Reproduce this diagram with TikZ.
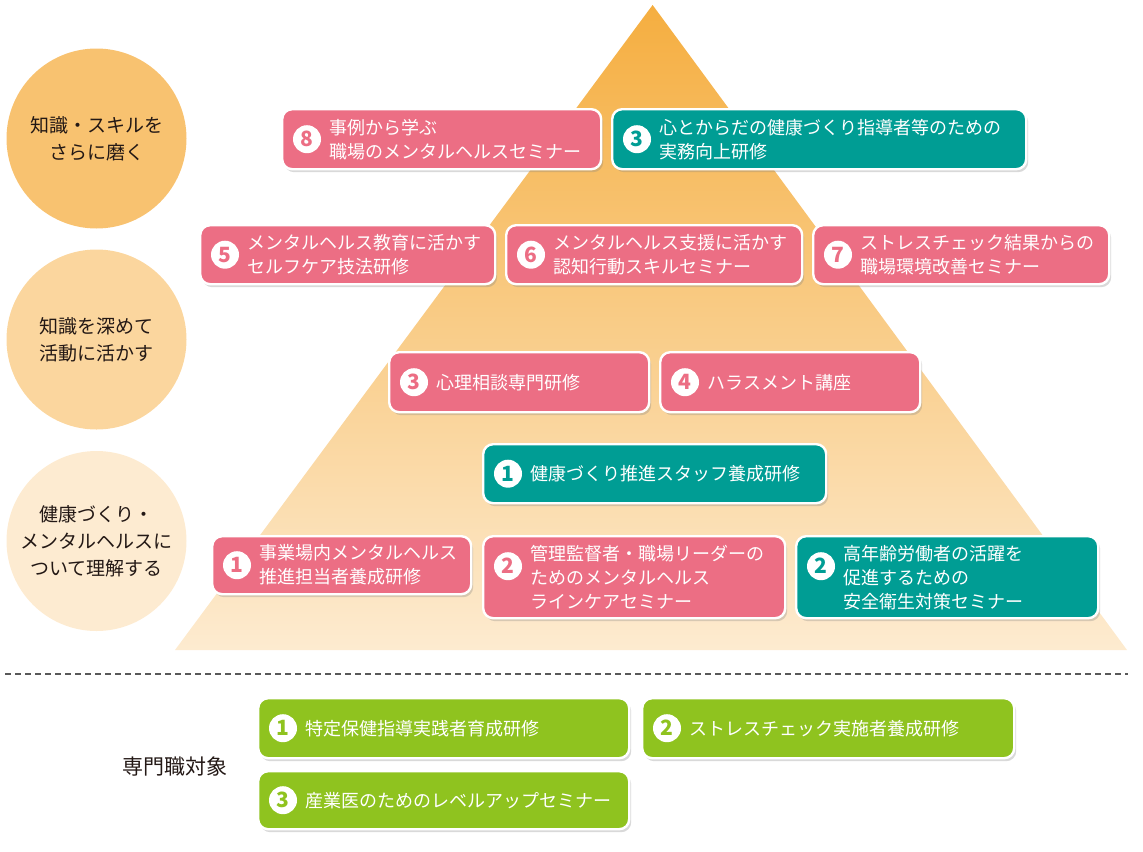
\documentclass[tikz,border=0pt]{standalone}
\usepackage{fontspec}
\setmainfont{Noto Sans CJK JP}
\usepackage{tikz}
\usetikzlibrary{positioning,shadows}
\usepackage{xcolor}
\definecolor{cwPink}{HTML}{EC6E84}
\definecolor{cwTeal}{HTML}{009D94}
\definecolor{cwGreen}{HTML}{8FC31F}
\definecolor{cwInk}{HTML}{231815}
\definecolor{lvTop}{HTML}{F8C270}
\definecolor{lvMid}{HTML}{FBD69E}
\definecolor{lvLow}{HTML}{FDEBD1}
\definecolor{pyrTop}{HTML}{F5AE40}
\definecolor{pyrMid}{HTML}{F9CD8C}
\definecolor{pyrLow}{HTML}{FDEBD0}
\tikzset{
    % level circles on the left
    levelCircle/.style={circle,minimum size=90pt,inner sep=0pt,align=center,text=cwInk,font=\fontsize{9.5}{13.5}\selectfont},
    % course cards
    cardBase/.style={rectangle,rounded corners=5pt,draw=white,line width=1.2pt,anchor=north west,inner sep=0pt,
        drop shadow={shadow xshift=1pt,shadow yshift=-1.5pt,opacity=0.3}},
    cardNum/.style={circle,fill=white,minimum size=14pt,inner sep=0pt,font=\fontsize{10.5}{10.5}\selectfont\bfseries},
    cardText/.style={anchor=west,align=left,inner sep=0pt,text=white,font=\fontsize{9}{12}\selectfont},
    sepLine/.style={densely dashed,gray!70!black,line width=0.6pt}
}
% name, colour, x, y, width, height (px), number, text
\newcommand{\courseCard}[8]{%
    \node[cardBase,fill=#2,minimum width=#5*0.5pt,minimum height=#6*0.5pt] (#1) at (#3,#4) {};
    \node[cardNum,text=#2] (#1Num) at ([xshift=13pt]#1.west) {#7};
    \node[cardText] (#1Text) at ([xshift=24pt]#1.west) {#8};
}

\begin{document}
\begin{tikzpicture}[x=0.5pt,y=-0.5pt]
    \useasboundingbox (0,0) rectangle (1143,851);

    % Pyramid
    \coordinate (apex) at (652.6,5);
    \coordinate (baseL) at (175,650);
    \coordinate (baseR) at (1127,650);
    \shade[top color=pyrTop,middle color=pyrMid,bottom color=pyrLow] (apex) -- (baseR) -- (baseL) -- cycle;

    % Levels
    \node[levelCircle,fill=lvTop] (lvSkill) at (96.5,138.5) {知識・スキルを\\さらに磨く};
    \node[levelCircle,fill=lvMid] (lvDeep) at (96.5,339.5) {知識を深めて\\活動に活かす};
    \node[levelCircle,fill=lvLow] (lvBasic) at (96.5,541) {健康づくり・\\メンタルヘルスに\\ついて理解する};

    % Top tier
    \courseCard{caseSem}{cwPink}{281}{108}{319}{60}{8}{事例から学ぶ\\職場のメンタルヘルスセミナー}
    \courseCard{leaderPrac}{cwTeal}{611}{108}{414}{60}{3}{心とからだの健康づくり指導者等のための\\実務向上研修}

    % Second tier
    \courseCard{selfCare}{cwPink}{199}{224}{295}{59}{5}{メンタルヘルス教育に活かす\\セルフケア技法研修}
    \courseCard{cogSkill}{cwPink}{505}{224}{296}{59}{6}{メンタルヘルス支援に活かす\\認知行動スキルセミナー}
    \courseCard{stressEnv}{cwPink}{812}{224}{296}{59}{7}{ストレスチェック結果からの\\職場環境改善セミナー}

    % Third tier
    \courseCard{counsel}{cwPink}{388}{351}{260}{60}{3}{心理相談専門研修}
    \courseCard{harass}{cwPink}{659}{351}{260}{60}{4}{ハラスメント講座}

    % Base tier
    \courseCard{staffTrain}{cwTeal}{482}{443}{343}{59}{1}{健康づくり推進スタッフ養成研修}
    \courseCard{promoter}{cwPink}{211}{535}{259}{58}{1}{事業場内メンタルヘルス\\推進担当者養成研修}
    \node[cardBase,fill=cwPink,minimum width=151pt,minimum height=41pt] (lineCare) at (482,535) {};
    \node[cardNum,text=cwPink] (lineCareNum) at ([xshift=13pt,yshift=5.5pt]lineCare.west) {2};
    \node[cardText] (lineCareText) at ([xshift=24pt]lineCare.west) {管理監督者・職場リーダーの\\ためのメンタルヘルス\\ラインケアセミナー};
    \node[cardBase,fill=cwTeal,minimum width=151pt,minimum height=41pt] (elderSafe) at (795,535) {};
    \node[cardNum,text=cwTeal] (elderSafeNum) at ([xshift=13pt,yshift=5.5pt]elderSafe.west) {2};
    \node[cardText] (elderSafeText) at ([xshift=24pt]elderSafe.west) {高年齢労働者の活躍を\\促進するための\\安全衛生対策セミナー};

    % Separator
    \coordinate (sepL) at (5,674);
    \coordinate (sepR) at (1128,674);
    \draw[sepLine] (sepL) -- (sepR);

    % Specialists
    \node[text=cwInk,font=\fontsize{10.5}{12}\selectfont] (proLabel) at (175,766) {専門職対象};
    \courseCard{healthGuide}{cwGreen}{257}{697}{371}{60}{1}{特定保健指導実践者育成研修}
    \courseCard{stressExec}{cwGreen}{641}{697}{372}{60}{2}{ストレスチェック実施者養成研修}
    \courseCard{doctorUp}{cwGreen}{257}{770}{371}{58}{3}{産業医のためのレベルアップセミナー}

\end{tikzpicture}
\end{document}
